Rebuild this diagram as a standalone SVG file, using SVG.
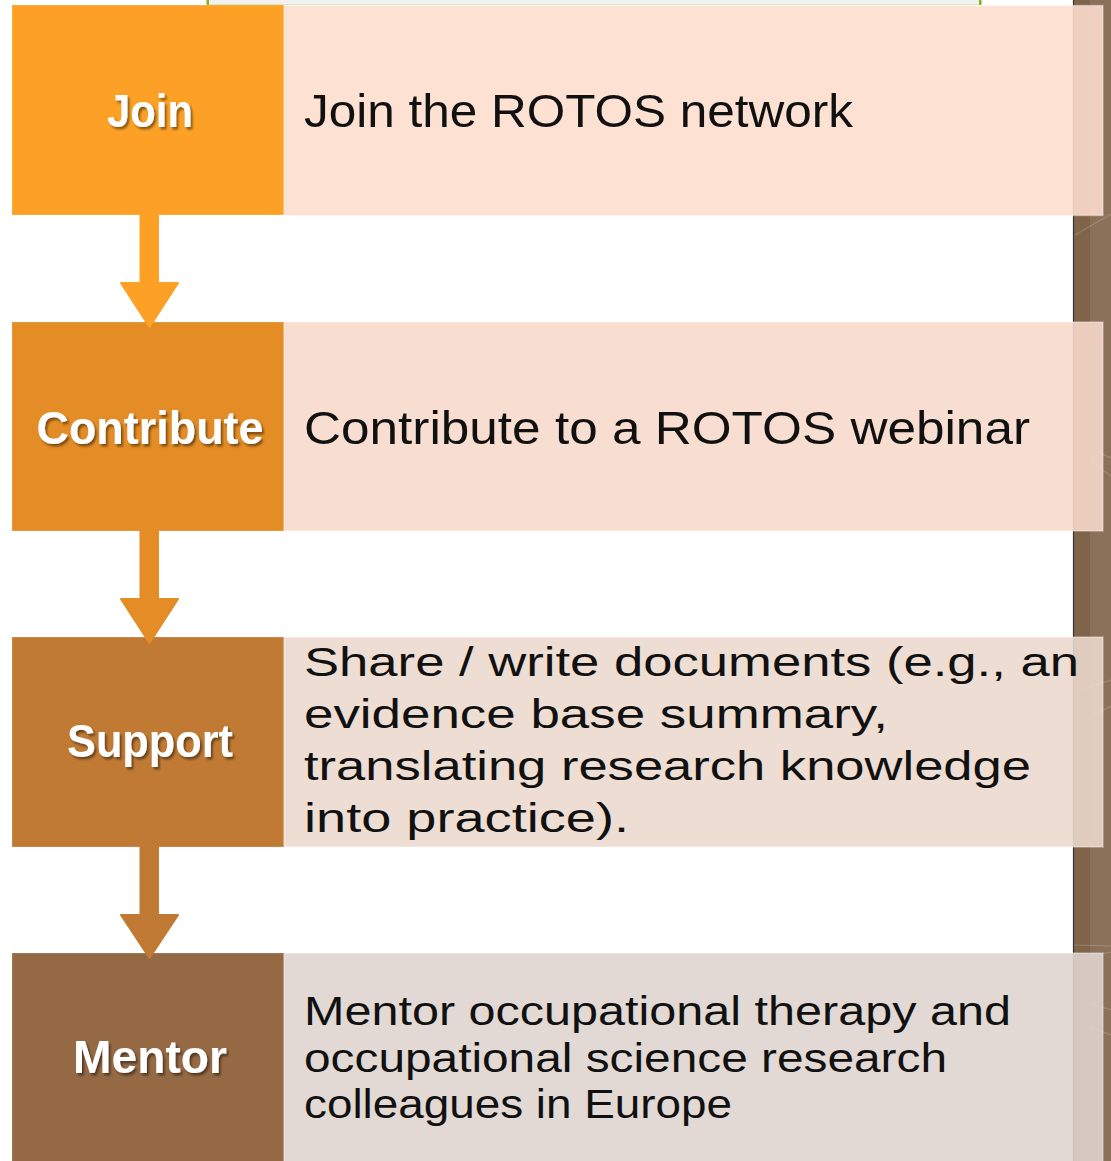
<svg xmlns="http://www.w3.org/2000/svg" width="1111" height="1161" viewBox="0 0 1111 1161">
  <style>
    .label { font-family: "Liberation Sans", Arial, sans-serif; font-weight: bold; font-size: 46px; fill: #ffffff; text-anchor: middle; filter: url(#shadow); }
    .desc { font-family: "Liberation Sans", Arial, sans-serif; fill: #111111; }
    .big { font-size: 47px; }
    .small { font-size: 41px; }
    .panel { fill-opacity: 0.89; stroke: #ffffff; stroke-opacity: 0.35; stroke-width: 1.5; }
    .tab { stroke: #ffffff; stroke-opacity: 0.2; stroke-width: 1; }
    .grain { stroke: #ffffff; stroke-opacity: 0.18; stroke-width: 1.2; fill: none; }
  </style>
  <defs>
    <filter id="shadow" x="-10%" y="-20%" width="130%" height="150%">
      <feDropShadow dx="2" dy="2.5" stdDeviation="1.2" flood-color="#000000" flood-opacity="0.45"/>
    </filter>
  </defs>

  <!-- page background -->
  <rect x="0" y="0" width="1111" height="1161" fill="#ffffff"/>

  <!-- strip of the slide frame at the top -->
  <g id="top-frame">
    <rect x="208" y="-1" width="772" height="6" fill="#f2f2f2"/>
    <line x1="208" y1="4.5" x2="980" y2="4.5" stroke="#d3e5b5" stroke-width="1"/>
    <rect x="206.5" y="-1" width="2.5" height="6" fill="#7db51e"/>
    <rect x="979" y="-1" width="2.5" height="6" fill="#7db51e"/>
  </g>

  <!-- wooden side border on the right -->
  <g id="side-border">
    <rect x="1074" y="0" width="16" height="1161" fill="#7f6449"/>
    <rect x="1090" y="0" width="21" height="1161" fill="#8b7159"/>
    <line x1="1073.5" y1="0" x2="1073.5" y2="1161" stroke="#333333" stroke-width="1.2"/>
    <path class="grain" d="M1075 235 L1111 214"/>
    <path class="grain" d="M1098 452 L1111 458"/>
    <path class="grain" d="M1092 462 L1111 476"/>
    <path class="grain" d="M1080 690 L1111 680"/>
    <path class="grain" d="M1086 720 L1111 706"/>
    <path class="grain" d="M1074 945 L1111 946"/>
    <path class="grain" d="M1075 960 L1111 952"/>
    <path class="grain" d="M1078 1000 L1111 1010"/>
    <path class="grain" d="M1084 1025 L1111 1035"/>
  </g>

  <!-- step 1 -->
  <g id="node-join">
    <rect class="tab" x="12" y="5" width="272" height="210" fill="#fca126"/>
    <rect class="panel" x="284" y="5.5" width="819" height="210" fill="#fdddce"/>
    <text class="label" x="150" y="127" textLength="86" lengthAdjust="spacingAndGlyphs">Join</text>
    <text class="desc big" x="304" y="127" textLength="549" lengthAdjust="spacingAndGlyphs">Join the ROTOS network</text>
  </g>

  <!-- step 2 -->
  <g id="node-contribute">
    <rect class="tab" x="12" y="322" width="272" height="209" fill="#e48c25"/>
    <rect class="panel" x="284" y="322" width="819" height="209" fill="#f7dacb"/>
    <text class="label" x="150" y="444" textLength="227" lengthAdjust="spacingAndGlyphs">Contribute</text>
    <text class="desc big" x="304" y="444" textLength="726" lengthAdjust="spacingAndGlyphs">Contribute to a ROTOS webinar</text>
  </g>

  <!-- step 3 -->
  <g id="node-support">
    <rect class="tab" x="12" y="637" width="272" height="210" fill="#c07a34"/>
    <rect class="panel" x="284" y="637" width="819" height="210" fill="#ecd9cc"/>
    <text class="label" x="150" y="757" textLength="166" lengthAdjust="spacingAndGlyphs">Support</text>
    <text class="desc small" x="304" y="676" textLength="775" lengthAdjust="spacingAndGlyphs">Share / write documents (e.g., an</text>
    <text class="desc small" x="304" y="728" textLength="584" lengthAdjust="spacingAndGlyphs">evidence base summary,</text>
    <text class="desc small" x="304" y="780" textLength="727" lengthAdjust="spacingAndGlyphs">translating research knowledge</text>
    <text class="desc small" x="304" y="832" textLength="325" lengthAdjust="spacingAndGlyphs">into practice).</text>
  </g>

  <!-- step 4 -->
  <g id="node-mentor">
    <rect class="tab" x="12" y="953" width="272" height="215" fill="#956943"/>
    <rect class="panel" x="284" y="953" width="819" height="215" fill="#ded4cf"/>
    <text class="label" x="150" y="1073" textLength="154" lengthAdjust="spacingAndGlyphs">Mentor</text>
    <text class="desc small" x="304" y="1025" textLength="707" lengthAdjust="spacingAndGlyphs">Mentor occupational therapy and</text>
    <text class="desc small" x="304" y="1072" textLength="643" lengthAdjust="spacingAndGlyphs">occupational science research</text>
    <text class="desc small" x="304" y="1118" textLength="428" lengthAdjust="spacingAndGlyphs">colleagues in Europe</text>
  </g>

  <!-- downward arrows between the steps -->
  <g id="connectors" stroke-linejoin="round" stroke-width="2">
    <path d="M140.5 215 H158 V283 H178 L149.5 327 L121 283 H140.5 Z" fill="#fca126" stroke="#fca126"/>
    <path d="M140.5 531 H158 V599 H178 L149.5 643 L121 599 H140.5 Z" fill="#e48c25" stroke="#e48c25"/>
    <path d="M140.5 847 H158 V915 H178 L149.5 958 L121 915 H140.5 Z" fill="#c07a34" stroke="#c07a34"/>
  </g>
</svg>
